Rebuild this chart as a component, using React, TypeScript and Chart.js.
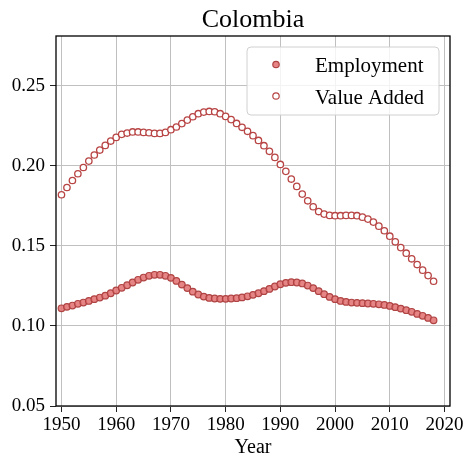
import React, { useEffect, useRef } from 'react';
import { Chart, registerables } from 'chart.js';

Chart.register(...registerables);

const TITLE = 'Colombia';
const X_LABEL = 'Year';
const SERIES_NAMES = ['Employment', 'Value Added'];
const YEARS = Array.from({ length: 69 }, (_, i) => 1950 + i);
const EMPLOYMENT = [
  0.1110, 0.1119, 0.1127, 0.1138, 0.1146, 0.1156, 0.1167, 0.1177, 0.1189, 0.1204,
  0.1221, 0.1238, 0.1254, 0.1271, 0.1288, 0.1302, 0.1313, 0.1319, 0.1319, 0.1313,
  0.1300, 0.1281, 0.1258, 0.1236, 0.1214, 0.1196, 0.1183, 0.1175, 0.1171, 0.1169,
  0.1169, 0.1171, 0.1173, 0.1178, 0.1185, 0.1194, 0.1204, 0.1217, 0.1231, 0.1246,
  0.1260, 0.1269, 0.1273, 0.1271, 0.1265, 0.1252, 0.1236, 0.1217, 0.1198, 0.1181,
  0.1167, 0.1156, 0.1150, 0.1146, 0.1144, 0.1142, 0.1140, 0.1138, 0.1135, 0.1131,
  0.1125, 0.1117, 0.1108, 0.1098, 0.1088, 0.1075, 0.1063, 0.1050, 0.1035,
];
const VALUE_ADDED = [
  0.1819, 0.1864, 0.1908, 0.1950, 0.1989, 0.2029, 0.2067, 0.2098, 0.2127, 0.2154,
  0.2177, 0.2196, 0.2204, 0.2211, 0.2211, 0.2208, 0.2206, 0.2202, 0.2202, 0.2208,
  0.2225, 0.2242, 0.2263, 0.2285, 0.2306, 0.2325, 0.2335, 0.2339, 0.2337, 0.2325,
  0.2308, 0.2288, 0.2264, 0.2240, 0.2215, 0.2188, 0.2158, 0.2125, 0.2090, 0.2052,
  0.2008, 0.1965, 0.1917, 0.1871, 0.1823, 0.1781, 0.1744, 0.1714, 0.1698, 0.1690,
  0.1688, 0.1688, 0.1690, 0.1690, 0.1688, 0.1679, 0.1667, 0.1648, 0.1623, 0.1594,
  0.1560, 0.1525, 0.1489, 0.1454, 0.1419, 0.1383, 0.1348, 0.1314, 0.1279,
];
const X_TICKS = [1950, 1960, 1970, 1980, 1990, 2000, 2010, 2020];
const Y_TICKS = [0.05, 0.1, 0.15, 0.2, 0.25];

const FONT = "'Liberation Serif', 'DejaVu Serif', serif";
const EMP_FILL = 'rgba(226, 112, 112, 0.85)';
const EMP_EDGE = '#b04343';
const VA_FILL = '#ffffff';
const VA_EDGE = '#b84444';
const GRID = '#c0c0c0';

const framePlugin = {
  id: 'frameLegendTitle',
  afterDraw(chart: any) {
    const { ctx, chartArea } = chart;
    const { left, right, top, bottom } = chartArea;
    ctx.save();
    ctx.strokeStyle = '#000';
    ctx.lineWidth = 1.3;
    ctx.strokeRect(left, top, right - left, bottom - top);
    ctx.fillStyle = '#000';
    ctx.font = `26px ${FONT}`;
    ctx.textAlign = 'center';
    ctx.textBaseline = 'alphabetic';
    ctx.fillText(TITLE, (left + right) / 2, 27);
    const bx = 247, by = 47, bw = 192, bh = 68, r = 4;
    ctx.beginPath();
    ctx.moveTo(bx + r, by);
    ctx.lineTo(bx + bw - r, by);
    ctx.arcTo(bx + bw, by, bx + bw, by + r, r);
    ctx.lineTo(bx + bw, by + bh - r);
    ctx.arcTo(bx + bw, by + bh, bx + bw - r, by + bh, r);
    ctx.lineTo(bx + r, by + bh);
    ctx.arcTo(bx, by + bh, bx, by + bh - r, r);
    ctx.lineTo(bx, by + r);
    ctx.arcTo(bx, by, bx + r, by, r);
    ctx.closePath();
    ctx.fillStyle = 'rgba(255,255,255,0.8)';
    ctx.fill();
    ctx.strokeStyle = '#d0d0d0';
    ctx.lineWidth = 1;
    ctx.stroke();
    const items = [
      { name: SERIES_NAMES[0], fill: EMP_FILL, edge: EMP_EDGE, y: 64.5 },
      { name: SERIES_NAMES[1], fill: VA_FILL, edge: VA_EDGE, y: 96 },
    ];
    ctx.font = `21px ${FONT}`;
    ctx.textAlign = 'left';
    items.forEach((it) => {
      ctx.beginPath();
      ctx.arc(276, it.y, 3.2, 0, Math.PI * 2);
      ctx.fillStyle = it.fill;
      ctx.fill();
      ctx.strokeStyle = it.edge;
      ctx.lineWidth = 1.2;
      ctx.stroke();
      ctx.fillStyle = '#000';
      ctx.textBaseline = 'alphabetic';
      ctx.fillText(it.name, 315, it.y + 7.5);
    });
    ctx.restore();
  },
};

export default function App() {
  const ref = useRef<HTMLCanvasElement>(null);
  useEffect(() => {
    if (!ref.current) return;
    const chart = new Chart(ref.current, {
      type: 'scatter',
      data: {
        datasets: [
          {
            label: SERIES_NAMES[0],
            data: YEARS.map((x, i) => ({ x, y: EMPLOYMENT[i] })),
            backgroundColor: EMP_FILL,
            borderColor: EMP_EDGE,
            borderWidth: 1.2,
            pointRadius: 3.3,
          },
          {
            label: SERIES_NAMES[1],
            data: YEARS.map((x, i) => ({ x, y: VALUE_ADDED[i] })),
            backgroundColor: VA_FILL,
            borderColor: VA_EDGE,
            borderWidth: 1.3,
            pointRadius: 3.2,
          },
        ],
      },
      options: {
        responsive: false,
        animation: false,
        devicePixelRatio: 1,
        layout: { padding: { top: 36, right: 17, left: 0, bottom: 0 } },
        plugins: {
          legend: { display: false },
          title: { display: false },
          tooltip: { enabled: false },
        },
        scales: {
          x: {
            type: 'linear',
            min: 1949,
            max: 2021,
            afterBuildTicks: (s: any) => {
              s.ticks = X_TICKS.map((v) => ({ value: v }));
            },
            afterFit: (s: any) => {
              s.height = 49;
            },
            ticks: {
              font: { family: FONT, size: 19 },
              color: '#000',
              padding: 2,
              maxRotation: 0,
              autoSkip: false,
              callback: (v: any) => String(v),
            },
            grid: { color: GRID, lineWidth: 1, tickLength: 6, tickColor: '#222' },
            border: { display: false },
            title: {
              display: true,
              text: X_LABEL,
              color: '#000',
              font: { family: FONT, size: 20, lineHeight: 1 },
              padding: { top: 0, bottom: -3 },
            },
          },
          y: {
            type: 'linear',
            min: 0.05,
            max: 0.281,
            afterBuildTicks: (s: any) => {
              s.ticks = Y_TICKS.map((v) => ({ value: v }));
            },
            afterFit: (s: any) => {
              s.width = 56;
            },
            ticks: {
              font: { family: FONT, size: 19 },
              color: '#000',
              padding: 5,
              callback: (v: any) => Number(v).toFixed(2),
            },
            grid: { color: GRID, lineWidth: 1, tickLength: 6, tickColor: '#222' },
            border: { display: false },
          },
        },
      },
      plugins: [framePlugin],
    } as any);
    return () => chart.destroy();
  }, []);
  return (
    <div style={{ position: 'absolute', left: 0, top: 0, width: 467, height: 455 }}>
      <canvas ref={ref} width={467} height={455} />
    </div>
  );
}
